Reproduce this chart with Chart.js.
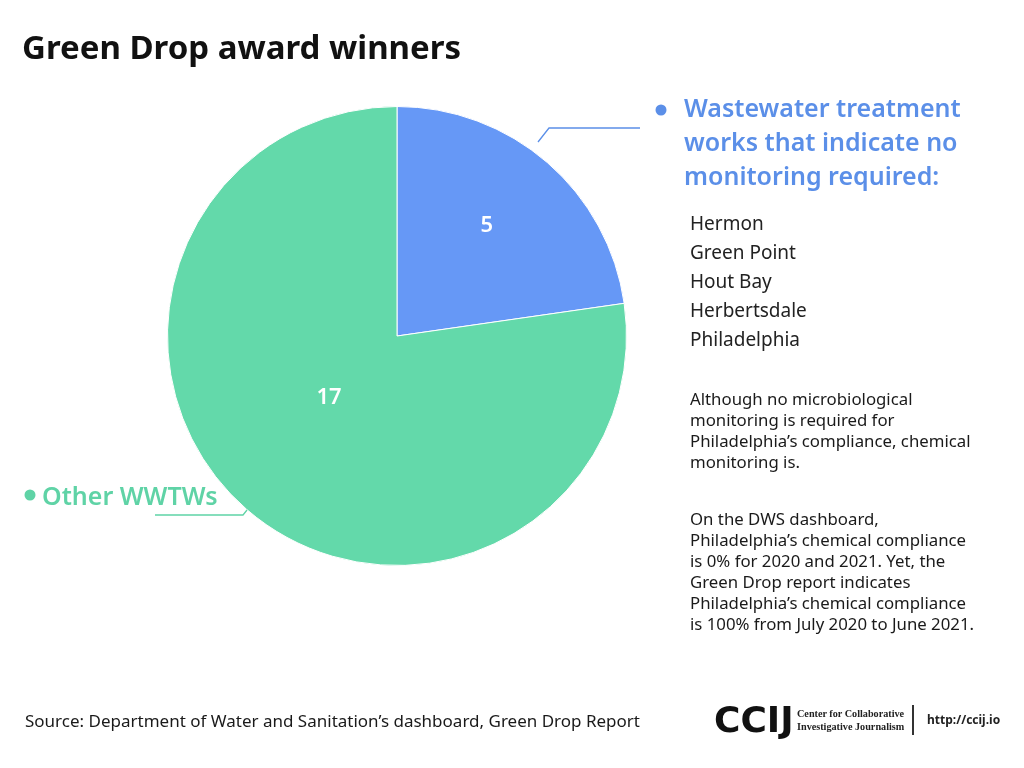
<!DOCTYPE html>
<html>
<head>
<meta charset="utf-8">
<script src="https://cdn.jsdelivr.net/npm/chart.js@4/dist/chart.umd.min.js"></script>
<style>
  html, body { margin: 0; padding: 0; background: #fff; }
  body { width: 1024px; height: 768px; position: relative; overflow: hidden; font-family: "Noto Sans", sans-serif; color: #1a1a1a; }
  #wrap { position: absolute; left: 0; top: 0; width: 1024px; height: 768px; }
  .abs { position: absolute; white-space: nowrap; }
  #title { left: 22px; top: 24px; font-size: 33px; font-weight: 700; color: #111; }
  #blueHead { left: 684px; top: 90px; font-size: 25px; font-weight: 600; color: #5b8fe8; line-height: 34px; }
  #names { left: 690px; top: 209px; font-size: 19px; line-height: 29px; color: #222; }
  #notes { left: 690px; top: 388px; font-size: 16.8px; line-height: 21px; color: #1a1a1a; }
  #notes .gap { height: 36px; }
  #greenHead { left: 42px; top: 478px; font-size: 25px; font-weight: 600; color: #5fd3a6; }
  #source { left: 25px; top: 709px; font-size: 17px; color: #1a1a1a; }
  #ccij { left: 714px; top: 702px; font-size: 36px; line-height: 36px; font-weight: 700; color: #111; font-family: "DejaVu Sans", sans-serif; }
  #ccijName { left: 797px; top: 707px; font-size: 10.2px; line-height: 13px; font-family: "Liberation Serif", serif; font-weight: 600; color: #222; }
  #vbar { left: 912px; top: 705px; width: 1.5px; height: 30px; background: #333; }
  #url { left: 927px; top: 711px; font-size: 12px; font-weight: 700; color: #222; }
</style>
</head>
<body>
<div id="wrap"><canvas id="pie" width="1024" height="768"></canvas></div>
<div class="abs" id="title">Green Drop award winners</div>
<div class="abs" id="blueHead">Wastewater treatment<br>works that indicate no<br>monitoring required:</div>
<div class="abs" id="names"></div>
<div class="abs" id="notes">Although no microbiological<br>monitoring is required for<br>Philadelphia’s compliance, chemical<br>monitoring is.<div class="gap"></div>On the DWS dashboard,<br>Philadelphia’s chemical compliance<br>is 0% for 2020 and 2021. Yet, the<br>Green Drop report indicates<br>Philadelphia’s chemical compliance<br>is 100% from July 2020 to June 2021.</div>
<div class="abs" id="greenHead">Other WWTWs</div>
<div class="abs" id="source">Source: Department of Water and Sanitation’s dashboard, Green Drop Report</div>
<div class="abs" id="ccij">CCIJ</div>
<div class="abs" id="ccijName">Center for Collaborative<br>Investigative Journalism</div>
<div class="abs" id="vbar"></div>
<div class="abs" id="url">http://ccij.io</div>
<script>
const categories = ['No monitoring required', 'Other WWTWs'];
const counts = [5, 17];
const noMonitoringPlants = ['Hermon', 'Green Point', 'Hout Bay', 'Herbertsdale', 'Philadelphia'];

const sliceColors = ['#6698f6', '#63d9aa'];

document.getElementById('names').innerHTML = noMonitoringPlants.join('<br>');

// value labels, leader lines and legend dots
const annotate = {
  id: 'annotate',
  afterDatasetsDraw(chart) {
    const ctx = chart.ctx;
    const arcs = chart.getDatasetMeta(0).data;
    const labelPos = [0.62, 0.40];
    const labelTurn = [-0.03, 0.12];
    ctx.save();
    arcs.forEach((arc, i) => {
      const p = arc.getProps(['x', 'y', 'startAngle', 'endAngle', 'outerRadius'], true);
      const mid = (p.startAngle + p.endAngle) / 2 + labelTurn[i];
      const r = p.outerRadius * labelPos[i];
      ctx.fillStyle = '#fff';
      ctx.font = '600 22px "Noto Sans"';
      ctx.textAlign = 'center';
      ctx.textBaseline = 'middle';
      ctx.fillText(String(counts[i]), p.x + Math.cos(mid) * r, p.y + Math.sin(mid) * r);
    });

    // blue leader
    ctx.lineWidth = 1.3;
    ctx.strokeStyle = '#5b8fe8';
    ctx.beginPath();
    ctx.moveTo(538, 142);
    ctx.lineTo(549, 128);
    ctx.lineTo(640, 128);
    ctx.stroke();
    ctx.fillStyle = '#5b8fe8';
    ctx.beginPath();
    ctx.arc(661, 110, 5.5, 0, Math.PI * 2);
    ctx.fill();

    // green leader
    ctx.strokeStyle = '#5fd3a6';
    ctx.beginPath();
    ctx.moveTo(155, 515);
    ctx.lineTo(243, 515);
    ctx.lineTo(247, 510);
    ctx.stroke();
    ctx.fillStyle = '#5fd3a6';
    ctx.beginPath();
    ctx.arc(30, 495, 5.5, 0, Math.PI * 2);
    ctx.fill();
    ctx.restore();
  }
};

new Chart(document.getElementById('pie'), {
  type: 'pie',
  data: {
    labels: categories,
    datasets: [{
      data: counts,
      backgroundColor: sliceColors,
      borderColor: '#ffffff',
      borderWidth: 1
    }]
  },
  options: {
    responsive: false,
    animation: false,
    layout: { padding: { left: 167, right: 397, top: 106, bottom: 202 } },
    plugins: {
      legend: { display: false },
      tooltip: { enabled: false }
    }
  },
  plugins: [annotate]
});
</script>
</body>
</html>
